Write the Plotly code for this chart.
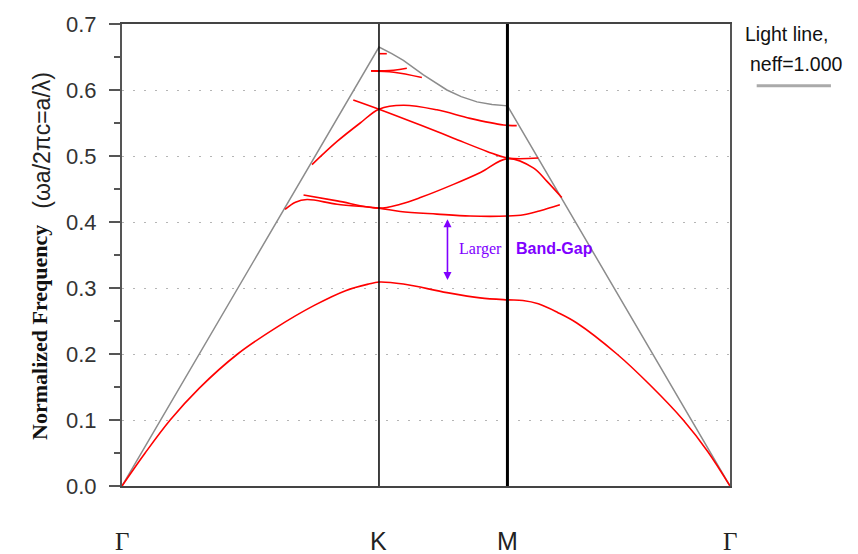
import plotly.graph_objects as go

# ---- symmetry points (k in units of 2*pi/a) ----
sym_k = [0.0, 0.6667, 1.0, 1.5774]
sym_labels = ["Γ", "K", "M", "Γ"]
sym_fonts = ["Liberation Serif", "Liberation Sans", "Liberation Sans", "Liberation Serif"]

# ---- light line ----
light_k = [0.0, 0.6667, 0.700, 0.730, 0.782, 0.843, 0.880, 0.921, 0.960, 1.0, 1.5774]
light_f = [0.0, 0.665, 0.655, 0.645, 0.623, 0.600, 0.590, 0.582, 0.578, 0.576, 0.0]

# ---- bands ----
band1_k = [0.0, 0.060, 0.125, 0.200, 0.300, 0.400, 0.500, 0.580, 0.640, 0.6667,
           0.730, 0.843, 0.929, 1.0, 1.040, 1.080, 1.130, 1.180, 1.284, 1.370, 1.456, 1.520, 1.5774]
band1_f = [0.0, 0.050, 0.100, 0.148, 0.200, 0.240, 0.274, 0.296, 0.306, 0.309,
           0.306, 0.293, 0.285, 0.282, 0.281, 0.276, 0.263, 0.247, 0.200, 0.153, 0.100, 0.052, 0.0]

band2_k = [0.423, 0.450, 0.480, 0.558, 0.6667, 0.722, 0.817, 0.903, 1.0, 1.042, 1.085, 1.136]
band2_f = [0.419, 0.430, 0.434, 0.427, 0.421, 0.416, 0.412, 0.409, 0.409, 0.411, 0.417, 0.426]

band3_k = [0.471, 0.558, 0.6667, 0.722, 0.774, 0.860, 0.930, 1.0, 1.067, 1.102, 1.141]
band3_f = [0.441, 0.432, 0.421, 0.427, 0.437, 0.457, 0.475, 0.496, 0.482, 0.462, 0.437]

band4_k = [0.493, 0.558, 0.618, 0.6667, 0.730, 0.817, 0.903, 0.990, 1.024]
band4_f = [0.487, 0.522, 0.550, 0.571, 0.577, 0.570, 0.557, 0.547, 0.546]

band5_k = [0.600, 0.6667, 0.774, 0.860, 0.947, 1.0, 1.080]
band5_f = [0.585, 0.571, 0.547, 0.527, 0.507, 0.497, 0.497]

band6_k = [0.646, 0.705, 0.739]
band6_f = [0.629, 0.630, 0.633]

band7_k = [0.646, 0.705, 0.778]
band7_f = [0.629, 0.627, 0.619]

band8_k = [0.668, 0.687]
band8_f = [0.655, 0.655]

bands = [(band1_k, band1_f), (band2_k, band2_f), (band3_k, band3_f), (band4_k, band4_f),
         (band5_k, band5_f), (band6_k, band6_f), (band7_k, band7_f), (band8_k, band8_f)]

# band gap arrow (frequency bounds)
gap_k = 0.8444
gap_f = [0.310, 0.404]

fig = go.Figure()

fig.add_trace(go.Scatter(x=light_k, y=light_f, mode="lines",
                         line=dict(color="#8c8c8c", width=1.5), hoverinfo="skip"))

for bk, bf in bands:
    fig.add_trace(go.Scatter(x=bk, y=bf, mode="lines",
                             line=dict(color="#ff0000", width=1.6, shape="spline", smoothing=1.0),
                             hoverinfo="skip"))

# vertical lines at K and M
fig.add_shape(type="line", xref="x", yref="paper", x0=sym_k[1], x1=sym_k[1], y0=0, y1=1,
              line=dict(color="black", width=1.5))
fig.add_shape(type="line", xref="x", yref="paper", x0=sym_k[2], x1=sym_k[2], y0=0, y1=1,
              line=dict(color="black", width=3))

annotations = []
# symmetry labels
for kx, lab, fam in zip(sym_k, sym_labels, sym_fonts):
    annotations.append(dict(x=kx, y=-0.12, xref="x", yref="paper", text=lab, showarrow=False,
                            xanchor="center", yanchor="middle", borderpad=0,
                            font=dict(family=fam, size=25, color="#222")))

# y axis title (two parts)
annotations.append(dict(x=-0.136, y=0.332, xref="paper", yref="paper",
                        text="<b>Normalized Frequency</b>", textangle=-90, showarrow=False,
                        xanchor="center", yanchor="middle",
                        font=dict(family="Liberation Serif", size=22, color="#111")))
annotations.append(dict(x=-0.131, y=0.748, xref="paper", yref="paper",
                        text="(ωa/2πc=a/λ)", textangle=-90, showarrow=False,
                        xanchor="center", yanchor="middle",
                        font=dict(family="Liberation Sans", size=23, color="#222")))

# light line legend
annotations.append(dict(x=1.022, y=0.978, xref="paper", yref="paper", text="Light line,",
                        showarrow=False, xanchor="left", yanchor="middle",
                        font=dict(family="Liberation Sans", size=19.5, color="#111")))
annotations.append(dict(x=1.030, y=0.914, xref="paper", yref="paper", text="neff=1.000",
                        showarrow=False, xanchor="left", yanchor="middle",
                        font=dict(family="Liberation Sans", size=19.5, color="#111")))

# band-gap arrow and label
annotations.append(dict(x=gap_k, y=gap_f[1], ax=gap_k, ay=gap_f[0], xref="x", yref="y",
                        axref="x", ayref="y", text="", showarrow=True,
                        arrowhead=2, startarrowhead=2, arrowside="end+start",
                        arrowsize=1, startarrowsize=1,
                        arrowwidth=1.6, arrowcolor="#8000ff"))
annotations.append(dict(x=0.868, y=0.3594, xref="x", yref="y", text="Larger",
                        showarrow=False, xanchor="left", yanchor="middle",
                        font=dict(family="Liberation Serif", size=16, color="#8000ff")))
annotations.append(dict(x=1.018, y=0.3594, xref="x", yref="y", text="<b>Band-Gap</b>",
                        showarrow=False, xanchor="left", yanchor="middle",
                        font=dict(family="Liberation Sans", size=16, color="#8000ff")))

fig.add_shape(type="line", xref="paper", yref="paper", x0=1.0439, x1=1.166, y0=0.8665, y1=0.8665,
              line=dict(color="#aaaaaa", width=3))

fig.update_layout(
    width=858, height=554,
    margin=dict(l=122, r=128, t=22, b=68),
    paper_bgcolor="white", plot_bgcolor="white",
    showlegend=False,
    annotations=annotations,
    xaxis=dict(range=[sym_k[0], sym_k[-1]], showticklabels=False, ticks="",
               showgrid=False, zeroline=False,
               showline=True, linecolor="#444", linewidth=2, mirror=True),
    yaxis=dict(range=[0, 0.7], tick0=0, dtick=0.1, tickformat=".1f",
               ticks="outside", ticklen=11, tickwidth=2, tickcolor="#555",
               ticklabelstandoff=8,
               tickfont=dict(family="Liberation Sans", size=22, color="#333"),
               showgrid=True, gridcolor="#b5b5b5", gridwidth=1, griddash="2px,9px",
               zeroline=False,
               showline=True, linecolor="#555", linewidth=2, mirror=True,
               minor=dict(dtick=0.05, ticks="outside", ticklen=6, tickwidth=2,
                          tickcolor="#555", showgrid=False)),
)

fig.write_html("out.html", config={"displayModeBar": False},
               post_script="document.body.style.margin='0px';document.body.style.padding='0px';"
                           "document.documentElement.style.overflow='hidden';")
